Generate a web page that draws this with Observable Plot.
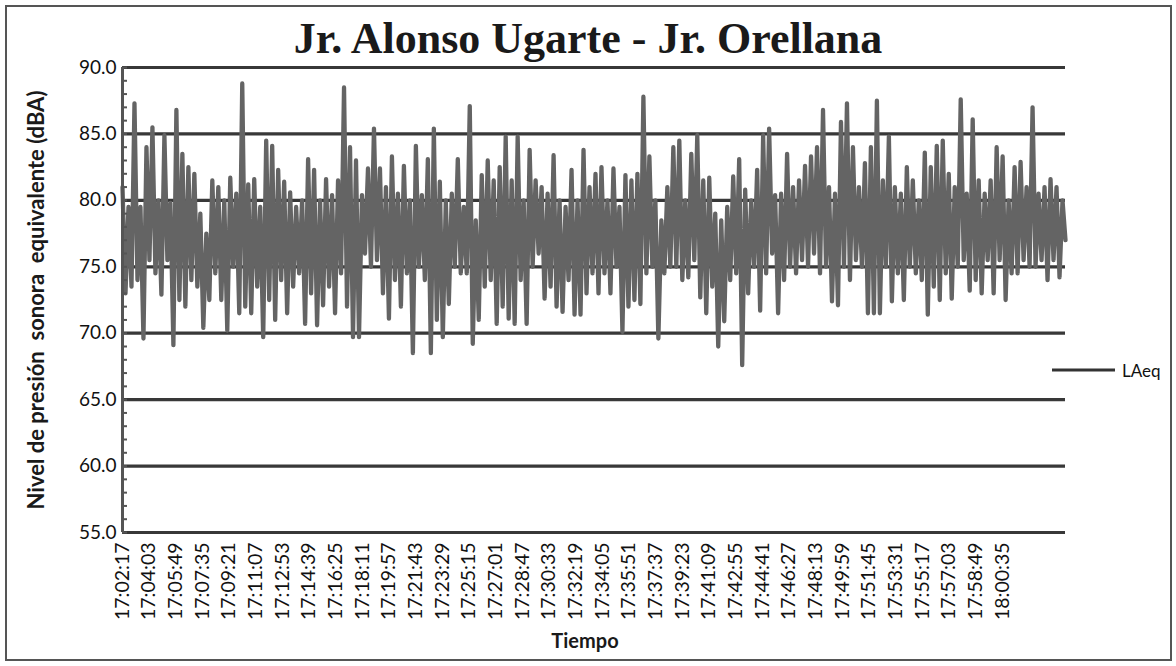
<!DOCTYPE html>
<html><head><meta charset="utf-8">
<script src="https://cdn.jsdelivr.net/npm/d3@7"></script>
<script src="https://cdn.jsdelivr.net/npm/@observablehq/plot@0.6"></script>
<style>
html,body{margin:0;padding:0;background:#fff;}
#wrap{position:relative;width:1176px;height:666px;overflow:hidden;font-family:Lato,"Open Sans",sans-serif;color:#111;}
#frame{position:absolute;left:5px;top:5px;width:1163px;height:652px;border:2px solid #555;pointer-events:none;}
#chart{position:absolute;left:0;top:0;}
#title{position:absolute;left:0;width:1176px;top:13px;text-align:center;font-family:"Liberation Serif",serif;font-weight:bold;font-size:44px;line-height:52px;color:#1a1a1a;}
#ylab{position:absolute;left:35px;top:300px;transform:translate(-50%,-50%) rotate(-90deg);white-space:nowrap;font-weight:bold;font-size:22px;color:#1a1a1a;}
#xlab{position:absolute;left:585px;top:640px;transform:translate(-50%,-50%);font-weight:bold;font-size:20px;color:#1a1a1a;}
#legend{position:absolute;left:1052px;top:370px;transform:translateY(-50%);display:flex;align-items:center;font-size:17px;}
#legend span.sw{display:inline-block;width:63px;height:3px;background:#333;margin-right:7px;}
</style>
</head><body>
<div id="wrap">
  <div id="chart"></div>
  <div id="title">Jr. Alonso Ugarte - Jr. Orellana</div>
  <div id="ylab">Nivel de presión&nbsp; sonora&nbsp; equivalente (dBA)</div>
  <div id="xlab">Tiempo</div>
  <div id="legend"><span class="sw"></span><span id="legtext">LAeq</span></div>
  <div id="frame"></div>
</div>
<script>
// Category tick labels on the time axis
const tickLabels = ["17:02:17","17:04:03","17:05:49","17:07:35","17:09:21","17:11:07","17:12:53","17:14:39","17:16:25","17:18:11","17:19:57","17:21:43","17:23:29","17:25:15","17:27:01","17:28:47","17:30:33","17:32:19","17:34:05","17:35:51","17:37:37","17:39:23","17:41:09","17:42:55","17:44:41","17:46:27","17:48:13","17:49:59","17:51:45","17:53:31","17:55:17","17:57:03","17:58:49","18:00:35"];
// y axis ticks (dBA)
const yTicks = [55, 60, 65, 70, 75, 80, 85, 90];
const yMinorTicks = d3.range(55, 91, 1);
// Seconds between successive readings in the reduced series
const sampleStep = 11.9;
// LAeq readings (dBA) in time order
const laeq = [
81.0,73.0, 79.5,73.5, 87.3,74.0, 79.5,69.6, 84.0,75.5, 85.5,74.5, 80.0,72.9, 84.9,75.5, 79.8,69.1, 86.8,72.5, 83.5,72.0, 82.5,74.0, 82.0,73.5, 79.0,70.4, 77.5,72.5, 81.5,74.5, 81.0,72.5, 80.0,70.2, 81.7,75.0, 80.5,71.5, 88.8,72.0, 81.2,71.5, 81.6,73.5, 79.5,69.7, 84.5,72.5, 84.1,71.0, 82.3,74.0, 81.4,71.5, 80.6,73.5, 79.5,74.5, 80.0,70.7, 83.1,73.0,
82.3,70.6, 80.0,72.1, 81.6,73.5, 80.4,71.5, 81.5,74.5, 88.5,72.0, 84.0,69.7, 83.0,69.7, 80.4,76.0, 82.4,75.0, 85.4,75.5, 82.4,73.0, 81.0,71.1, 83.3,74.0, 80.5,72.0, 82.6,74.5, 80.0,68.5, 84.1,75.0, 80.4,74.0, 83.1,68.5, 85.4,71.0, 81.4,69.7, 80.0,72.2, 80.5,75.0, 83.1,74.5, 79.5,74.5, 87.1,69.2, 78.5,71.0, 81.9,73.5, 83.0,74.0, 81.5,70.7,
82.5,72.0, 84.8,71.1, 81.5,70.7, 84.8,74.0, 80.0,70.7, 83.8,75.0, 81.5,76.0, 81.0,72.6, 80.5,73.5, 83.4,72.0, 80.0,71.6, 79.5,74.0, 82.3,71.4, 80.0,71.4, 83.8,73.0, 81.0,74.5, 82.0,73.0, 82.5,74.5, 80.0,73.0, 82.4,75.0, 79.5,70.1, 81.9,72.0, 81.5,72.5, 82.0,72.2, 87.8,74.5, 83.3,75.0, 80.0,69.6, 78.5,74.5, 81.0,75.0, 84.0,75.0, 84.5,74.0,
80.0,74.2, 83.5,75.5, 84.9,72.7, 81.5,71.5, 81.7,73.5, 79.0,69.0, 78.5,70.9, 79.5,74.0, 81.8,74.5, 83.1,67.6, 80.8,73.0, 80.0,75.0, 82.3,71.7, 84.9,74.5, 85.4,76.0, 80.4,71.5, 80.5,74.0, 83.5,75.0, 81.0,74.5, 81.5,75.5, 82.6,75.0, 83.3,76.0, 84.0,74.5, 86.8,75.0, 81.0,72.4, 80.5,72.1, 85.9,75.0, 87.3,74.0, 84.0,75.5, 81.0,75.0, 82.8,71.5,
84.0,71.5, 87.5,71.5, 81.5,75.0, 84.8,72.4, 81.0,74.5, 80.5,72.5, 82.5,75.0, 81.5,74.5, 80.0,74.0, 83.6,71.4, 82.5,73.5, 84.1,72.5, 84.5,74.5, 82.0,72.6, 81.0,75.0, 87.6,75.5, 80.5,73.2, 86.1,74.0, 81.5,73.0, 80.5,75.5, 81.5,73.0, 84.0,75.5, 83.3,72.5, 80.0,74.5, 82.5,74.5, 82.9,75.5, 81.0,75.0, 87.0,75.0, 80.5,75.5, 81.0,74.0, 81.6,75.5, 81.0,74.2, 80.0,77.0
];

const hms = s => { const [h,m,x] = s.split(":").map(Number); return h*3600 + m*60 + x; };
const t0 = hms(tickLabels[0]);
const tickSecs = tickLabels.map(s => hms(s) - t0);
const labelOf = new Map(tickSecs.map((d, i) => [d, tickLabels[i]]));
const data = laeq.map((v, i) => ({t: i * sampleStep, v}));

const chart = Plot.plot({
  width: 1176, height: 666,
  marginLeft: 122, marginRight: 111, marginTop: 67, marginBottom: 134,
  style: {fontFamily: "Lato, 'Open Sans', sans-serif", background: "transparent", color: "#111", overflow: "visible"},
  x: {domain: [0, (laeq.length - 1) * sampleStep]},
  y: {domain: [yTicks[0], yTicks[yTicks.length - 1]]},
  marks: [
    Plot.ruleY(yTicks, {stroke: "#383838", strokeWidth: 3.2}),
    Plot.line(data, {x: "t", y: "v", stroke: "#646464", strokeWidth: 4.3, strokeLinejoin: "round"}),
    Plot.ruleX([0], {stroke: "#555", strokeWidth: 3}),
    Plot.axisY(yMinorTicks, {tickSize: 5, dx: 5, tickFormat: () => "", stroke: "#555", strokeWidth: 2, label: null}),
    Plot.axisY(yTicks, {tickSize: 0, tickPadding: 6, tickFormat: d3.format(".1f"), fontSize: 19, label: null}),
    Plot.axisX(tickSecs, {tickSize: 0, tickPadding: 10, tickRotate: -90, tickFormat: d => labelOf.get(d), fontSize: 19.5, label: null})
  ]
});
document.getElementById("chart").appendChild(chart);
</script>
</body></html>
